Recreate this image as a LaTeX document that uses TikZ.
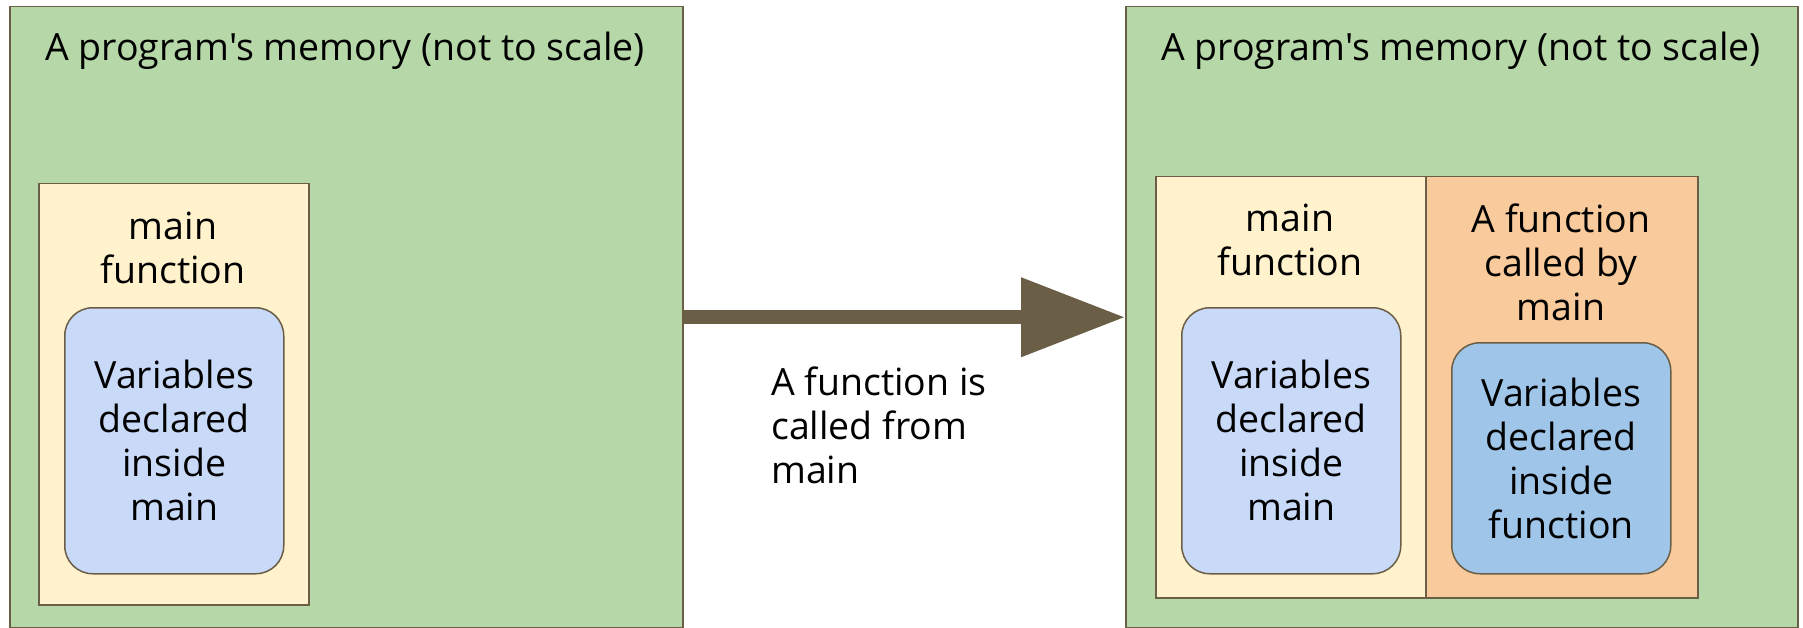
\documentclass[tikz,border=0pt]{standalone}
\usepackage{fontspec}
\setmainfont{Open Sans}[Ligatures=TeXOff]
\usetikzlibrary{arrows.meta}
\definecolor{memgreen}{HTML}{B6D7A8}
\definecolor{edgebrown}{HTML}{6B5E46}
\definecolor{mainyellow}{HTML}{FFF2CC}
\definecolor{varblue}{HTML}{C9DAF8}
\definecolor{callorange}{HTML}{F9CB9C}
\definecolor{fnblue}{HTML}{9FC5E8}
\tikzset{
  txt/.style={font=\fontsize{37.5}{44}\selectfont, align=center, inner sep=0pt, text=black},
  membox/.style={draw=edgebrown, fill=memgreen, line width=1.5pt, anchor=north west, inner sep=0pt},
  framebox/.style={draw=edgebrown, line width=1.5pt, anchor=north west, inner sep=0pt},
  varbox/.style={draw=edgebrown, line width=1.5pt, rounded corners=28pt, anchor=north west, inner sep=0pt,
    font=\fontsize{37.5}{44}\selectfont, align=center},
  callarrow/.style={draw=edgebrown, line width=14pt, -{Triangle[length=104pt,width=76pt]}},
}
\begin{document}
\begin{tikzpicture}[x=1pt, y=-1pt]
\useasboundingbox (0,0) rectangle (1803,628);

% memory before the call
\node[membox, minimum width=673pt, minimum height=621pt] (leftmem) at (9,6) {};
\node[txt] (lefttitle) at (345,51) {A program's memory (not to scale)};
\node[framebox, fill=mainyellow, minimum width=270pt, minimum height=421pt] (leftmain) at (38,183) {};
\node[txt] (leftmainlbl) at (173,248) {main\\function};
\node[varbox, fill=varblue, minimum width=219pt, minimum height=266pt] (leftvars) at (64,307)
  {Variables\\declared\\inside\\main};

% memory after the call
\node[membox, minimum width=672pt, minimum height=621pt] (rightmem) at (1125,6) {};
\node[txt] (righttitle) at (1461,51) {A program's memory (not to scale)};
\node[framebox, fill=mainyellow, minimum width=270pt, minimum height=421pt] (rightmain) at (1155,176) {};
\node[framebox, fill=callorange, minimum width=272pt, minimum height=421pt] (callee) at (1425,176) {};
\node[txt] (rightmainlbl) at (1290,240) {main\\function};
\node[txt] (calleelbl) at (1561,262) {A function\\called by\\main};
\node[varbox, fill=varblue, minimum width=219pt, minimum height=266pt] (rightvars) at (1181,307)
  {Variables\\declared\\inside\\main};
\node[varbox, fill=fnblue, minimum width=219pt, minimum height=231pt] (calleevars) at (1451,342)
  {Variables\\declared\\inside\\function};

% the call
\draw[callarrow] (leftmem.east) -- (rightmem.west);
\node[txt, align=left, anchor=west] (calllbl) at (771,425) {A function is\\called from\\main};
\end{tikzpicture}
\end{document}
